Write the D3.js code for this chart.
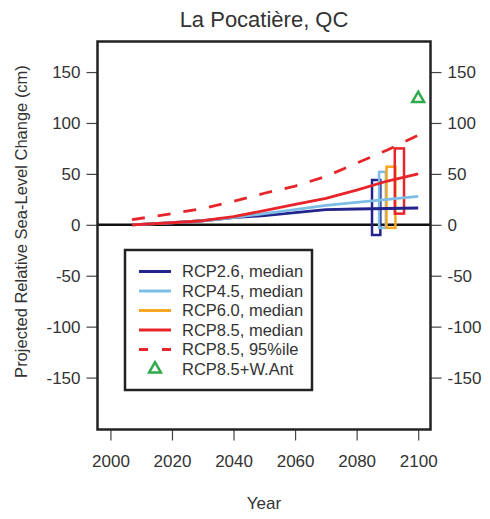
<!DOCTYPE html>
<html>
<head>
<meta charset="utf-8">
<script src="https://cdn.jsdelivr.net/npm/d3@7"></script>
<style>
  body { margin: 0; background: #fff; }
  text { font-family: "Liberation Sans", Arial, sans-serif; fill: #333; }
</style>
</head>
<body>
<div id="chart"></div>
<script>
// Projected relative sea-level change, La Pocatière

const years = [2007, 2020, 2030, 2040, 2050, 2060, 2070, 2080, 2090, 2100];
const rcp26 = [0, 2, 4, 7, 9, 12, 15, 15.5, 16, 16.5];
const rcp45 = [0, 2, 4, 7, 11, 15, 19, 22, 25, 28];
const rcp85 = [0, 2, 4, 8, 14, 20, 26, 34, 43, 50];
const rcp85p95 = [5, 11, 16, 23, 31, 38, 47.5, 60.5, 73.5, 88];

// 2100 ranges drawn as boxes: [yearFrom, yearTo], low, high
const boxScen = ["RCP2.6", "RCP4.5", "RCP6.0", "RCP8.5"];
const boxYears = [[2085, 2087.7], [2087.3, 2089.5], [2089.7, 2092.6], [2092.4, 2095.4]];
const boxLow = [-10, -3, -3, 11];
const boxHigh = [44, 52, 57, 75];

const wantYear = 2100;
const wantValue = 124;

const xTicks = [2000, 2020, 2040, 2060, 2080, 2100];
const yTicks = [-150, -100, -50, 0, 50, 100, 150];

const legendLabels = ["RCP2.6, median", "RCP4.5, median", "RCP6.0, median",
                      "RCP8.5, median", "RCP8.5, 95%ile", "RCP8.5+W.Ant"];

const colors = {
    "RCP2.6": "#23238e",
    "RCP4.5": "#7dbde3",
    "RCP6.0": "#f5a623",
    "RCP8.5": "#e8242b",
    "W.Ant": "#2eaa4a"
};

const W = 490, H = 519;
const box = { left: 97.5, right: 430.5, top: 41.5, bottom: 429.5 };

const svg = d3.select("#chart").append("svg")
    .attr("width", W)
    .attr("height", H);

const x = d3.scaleLinear().domain([1995.8, 2104]).range([box.left, box.right]);
const y = d3.scaleLinear().domain([-201, 180]).range([box.bottom, box.top]);

const plainNum = d => String(d);

// axes
svg.append("g")
    .attr("transform", `translate(${box.left},0)`)
    .call(d3.axisLeft(y).tickValues(yTicks).tickFormat(plainNum).tickSize(11).tickPadding(6))
    .call(g => g.select(".domain").remove());

svg.append("g")
    .attr("transform", `translate(${box.right},0)`)
    .call(d3.axisRight(y).tickValues(yTicks).tickFormat(plainNum).tickSize(11).tickPadding(6))
    .call(g => g.select(".domain").remove());

svg.append("g")
    .attr("transform", `translate(0,${box.bottom})`)
    .call(d3.axisBottom(x).tickValues(xTicks).tickFormat(plainNum).tickSize(11).tickPadding(14))
    .call(g => g.select(".domain").remove());

svg.selectAll(".tick line").attr("stroke", "#444").attr("stroke-width", 1.2);
svg.selectAll(".tick text")
    .style("font-size", "17px")
    .style("font-family", "'Liberation Sans', Arial, sans-serif")
    .attr("fill", "#333");

// zero line
svg.append("line")
    .attr("x1", box.left).attr("x2", box.right)
    .attr("y1", y(0)).attr("y2", y(0))
    .attr("stroke", "#111").attr("stroke-width", 2.5);

// range boxes
svg.selectAll("rect.range")
    .data(boxScen)
    .enter()
    .append("rect")
    .attr("class", "range")
    .attr("x", (d, i) => x(boxYears[i][0]))
    .attr("width", (d, i) => x(boxYears[i][1]) - x(boxYears[i][0]))
    .attr("y", (d, i) => y(boxHigh[i]))
    .attr("height", (d, i) => y(boxLow[i]) - y(boxHigh[i]))
    .attr("fill", "none")
    .attr("stroke", d => colors[d])
    .attr("stroke-width", 2.5);

// median lines
const line = d3.line().x(d => x(d[0])).y(d => y(d[1]));
const series = [
    { key: "RCP2.6", values: rcp26 },
    { key: "RCP4.5", values: rcp45 },
    { key: "RCP8.5", values: rcp85 }
];

series.forEach(s => {
    svg.append("path")
        .datum(years.map((yr, i) => [yr, s.values[i]]))
        .attr("d", line)
        .attr("fill", "none")
        .attr("stroke", colors[s.key])
        .attr("stroke-width", 2.8)
        .attr("stroke-linejoin", "round");
});

svg.append("path")
    .datum(years.map((yr, i) => [yr, rcp85p95[i]]))
    .attr("d", line)
    .attr("fill", "none")
    .attr("stroke", colors["RCP8.5"])
    .attr("stroke-width", 2.8)
    .attr("stroke-dasharray", "13,13");

// W. Antarctic triangle
const tri = d3.symbol().type(d3.symbolTriangle).size(60);
svg.append("path")
    .attr("d", tri)
    .attr("transform", `translate(${x(wantYear)},${y(wantValue)})`)
    .attr("fill", "none")
    .attr("stroke", colors["W.Ant"])
    .attr("stroke-width", 2.5);

// frame
svg.append("rect")
    .attr("x", box.left).attr("y", box.top)
    .attr("width", box.right - box.left)
    .attr("height", box.bottom - box.top)
    .attr("fill", "none")
    .attr("stroke", "#222")
    .attr("stroke-width", 2.5);

// legend
const leg = svg.append("g");
leg.append("rect")
    .attr("x", 125).attr("y", 250)
    .attr("width", 187).attr("height", 140)
    .attr("fill", "#fff")
    .attr("stroke", "#222")
    .attr("stroke-width", 2.5);

const legColors = [colors["RCP2.6"], colors["RCP4.5"], colors["RCP6.0"], colors["RCP8.5"], colors["RCP8.5"], colors["W.Ant"]];

legendLabels.forEach((lab, i) => {
    const ly = 271.5 + i * 19.5;
    if (i < 5) {
        leg.append("line")
            .attr("x1", 139).attr("x2", 171)
            .attr("y1", ly).attr("y2", ly)
            .attr("stroke", legColors[i])
            .attr("stroke-width", 3)
            .attr("stroke-dasharray", i === 4 ? "9,14" : null);
    } else {
        leg.append("path")
            .attr("d", tri)
            .attr("transform", `translate(155,${ly})`)
            .attr("fill", "none")
            .attr("stroke", legColors[i])
            .attr("stroke-width", 2.5);
    }
    leg.append("text")
        .attr("x", 182)
        .attr("y", ly + 5.5)
        .style("font-size", "16.5px")
        .text(lab);
});

// titles
svg.append("text")
    .attr("x", (box.left + box.right) / 2)
    .attr("y", 27)
    .attr("text-anchor", "middle")
    .style("font-size", "22px")
    .text("La Pocatière, QC");

svg.append("text")
    .attr("x", (box.left + box.right) / 2)
    .attr("y", 509)
    .attr("text-anchor", "middle")
    .style("font-size", "17px")
    .text("Year");

svg.append("text")
    .attr("transform", `translate(27,${(box.top + box.bottom) / 2 - 14}) rotate(-90)`)
    .attr("text-anchor", "middle")
    .style("font-size", "16.5px")
    .text("Projected Relative Sea-Level Change (cm)");
</script>
</body>
</html>
